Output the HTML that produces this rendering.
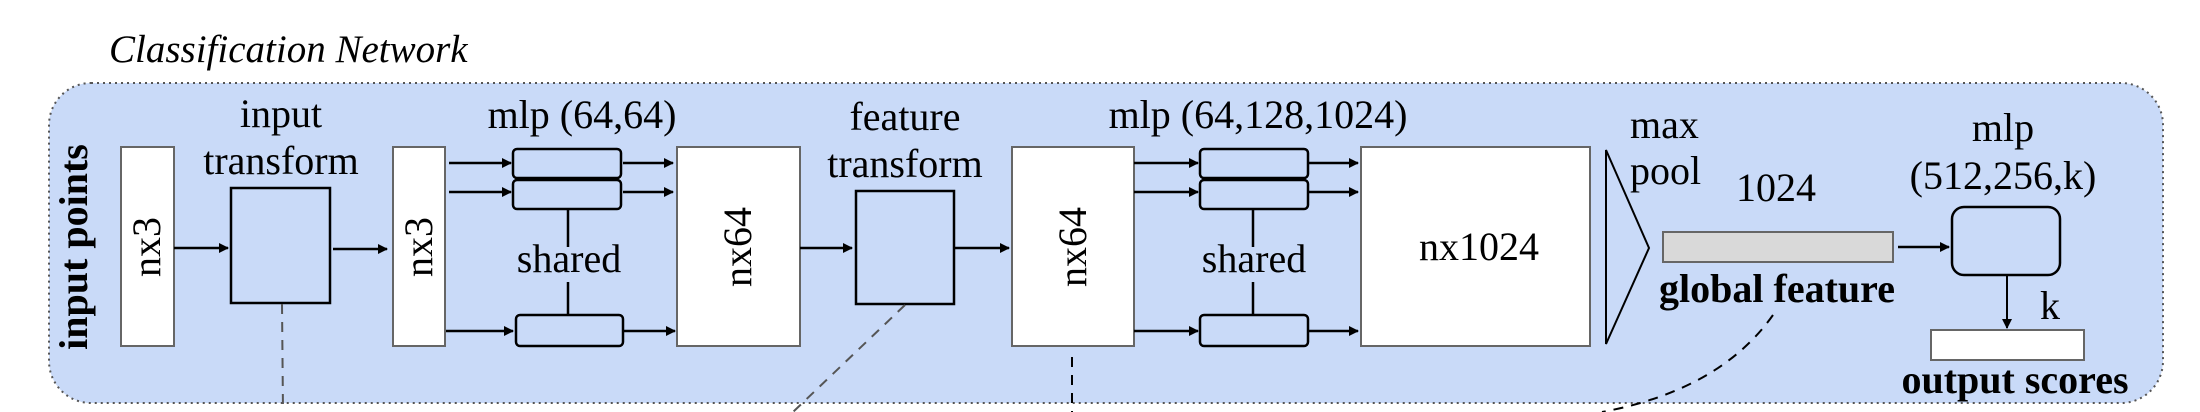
<!DOCTYPE html>
<html><head><meta charset="utf-8"><style>
html,body{margin:0;padding:0;background:#fff;width:2200px;height:412px;overflow:hidden}
svg{display:block}
text{font-family:"Liberation Serif",serif;fill:#000}
</style></head><body>
<svg width="2200" height="412" viewBox="0 0 2200 412" xmlns="http://www.w3.org/2000/svg">
<defs>
<marker id="a" markerWidth="10" markerHeight="10" refX="9" refY="5" orient="auto" markerUnits="userSpaceOnUse">
<path d="M0,0 L10,5 L0,10 Z" fill="#000"/></marker>
</defs>
<text x="109" y="62" font-size="39" font-style="italic">Classification Network</text>
<rect x="49" y="83" width="2114" height="320" rx="42" ry="42" fill="#c9daf8" stroke="#555" stroke-width="2" stroke-dasharray="2,4"/>
<text transform="translate(87,247) rotate(-90)" text-anchor="middle" font-size="40" font-weight="bold">input points</text>

<rect x="121" y="147" width="53" height="199" fill="#fff" stroke="#666" stroke-width="2"/>
<text transform="translate(160,247) rotate(-90)" text-anchor="middle" font-size="40">nx3</text>
<line x1="174" y1="248" x2="228" y2="248" stroke="#000" stroke-width="2.5" marker-end="url(#a)"/>
<text x="281" y="127" text-anchor="middle" font-size="40">input</text>
<text x="281" y="174" text-anchor="middle" font-size="40">transform</text>
<rect x="231" y="188" width="99" height="115" fill="#c9daf8" stroke="#000" stroke-width="2.5"/>
<line x1="333" y1="249" x2="387" y2="249" stroke="#000" stroke-width="2.5" marker-end="url(#a)"/>
<rect x="393" y="147" width="52" height="199" fill="#fff" stroke="#666" stroke-width="2"/>
<text transform="translate(432,247) rotate(-90)" text-anchor="middle" font-size="40">nx3</text>

<text x="582" y="128" text-anchor="middle" font-size="40">mlp (64,64)</text>
<rect x="513" y="149" width="108" height="29" rx="4" fill="#c9daf8" stroke="#000" stroke-width="2.5"/>
<rect x="513" y="180" width="108" height="29" rx="4" fill="#c9daf8" stroke="#000" stroke-width="2.5"/>
<rect x="516" y="315" width="107" height="31" rx="4" fill="#c9daf8" stroke="#000" stroke-width="2.5"/>
<line x1="449" y1="163" x2="511" y2="163" stroke="#000" stroke-width="2.5" marker-end="url(#a)"/>
<line x1="449" y1="192" x2="511" y2="192" stroke="#000" stroke-width="2.5" marker-end="url(#a)"/>
<line x1="446" y1="331" x2="513" y2="331" stroke="#000" stroke-width="2.5" marker-end="url(#a)"/>
<line x1="623" y1="163" x2="673" y2="163" stroke="#000" stroke-width="2.5" marker-end="url(#a)"/>
<line x1="623" y1="192" x2="673" y2="192" stroke="#000" stroke-width="2.5" marker-end="url(#a)"/>
<line x1="624" y1="331" x2="675" y2="331" stroke="#000" stroke-width="2.5" marker-end="url(#a)"/>
<line x1="568" y1="209" x2="568" y2="247" stroke="#000" stroke-width="2.5"/>
<line x1="568" y1="282" x2="568" y2="315" stroke="#000" stroke-width="2.5"/>
<text x="569" y="272" text-anchor="middle" font-size="40">shared</text>

<rect x="677" y="147" width="123" height="199" fill="#fff" stroke="#666" stroke-width="2"/>
<text transform="translate(751,247) rotate(-90)" text-anchor="middle" font-size="40">nx64</text>
<line x1="800" y1="248" x2="852" y2="248" stroke="#000" stroke-width="2.5" marker-end="url(#a)"/>
<text x="905" y="130" text-anchor="middle" font-size="40">feature</text>
<text x="905" y="177" text-anchor="middle" font-size="40">transform</text>
<rect x="856" y="191" width="98" height="113" fill="#c9daf8" stroke="#000" stroke-width="2.5"/>
<line x1="955" y1="248" x2="1009" y2="248" stroke="#000" stroke-width="2.5" marker-end="url(#a)"/>
<rect x="1012" y="147" width="122" height="199" fill="#fff" stroke="#666" stroke-width="2"/>
<text transform="translate(1086,247) rotate(-90)" text-anchor="middle" font-size="40">nx64</text>

<text x="1258" y="128" text-anchor="middle" font-size="40">mlp (64,128,1024)</text>
<rect x="1200" y="149" width="108" height="29" rx="4" fill="#c9daf8" stroke="#000" stroke-width="2.5"/>
<rect x="1200" y="180" width="108" height="29" rx="4" fill="#c9daf8" stroke="#000" stroke-width="2.5"/>
<rect x="1200" y="315" width="108" height="31" rx="4" fill="#c9daf8" stroke="#000" stroke-width="2.5"/>
<line x1="1134" y1="163" x2="1198" y2="163" stroke="#000" stroke-width="2.5" marker-end="url(#a)"/>
<line x1="1134" y1="192" x2="1198" y2="192" stroke="#000" stroke-width="2.5" marker-end="url(#a)"/>
<line x1="1134" y1="331" x2="1198" y2="331" stroke="#000" stroke-width="2.5" marker-end="url(#a)"/>
<line x1="1309" y1="163" x2="1358" y2="163" stroke="#000" stroke-width="2.5" marker-end="url(#a)"/>
<line x1="1309" y1="192" x2="1358" y2="192" stroke="#000" stroke-width="2.5" marker-end="url(#a)"/>
<line x1="1309" y1="331" x2="1358" y2="331" stroke="#000" stroke-width="2.5" marker-end="url(#a)"/>
<line x1="1253" y1="209" x2="1253" y2="247" stroke="#000" stroke-width="2.5"/>
<line x1="1253" y1="282" x2="1253" y2="315" stroke="#000" stroke-width="2.5"/>
<text x="1254" y="272" text-anchor="middle" font-size="40">shared</text>

<rect x="1361" y="147" width="229" height="199" fill="#fff" stroke="#666" stroke-width="2"/>
<text x="1479" y="260" text-anchor="middle" font-size="40">nx1024</text>

<path d="M1606,150 L1606,344 L1649,248 Z" fill="#c9daf8" stroke="#000" stroke-width="2"/>
<text x="1630" y="138" font-size="40">max</text>
<text x="1630" y="184" font-size="40">pool</text>
<text x="1776" y="201" text-anchor="middle" font-size="40">1024</text>
<rect x="1663" y="232" width="230" height="30" fill="#d9d9d9" stroke="#666" stroke-width="2"/>
<text x="1777" y="302" text-anchor="middle" font-size="40" font-weight="bold">global feature</text>
<line x1="1898" y1="247" x2="1949" y2="247" stroke="#000" stroke-width="2.5" marker-end="url(#a)"/>
<text x="2003" y="141" text-anchor="middle" font-size="40">mlp</text>
<text x="2003" y="189" text-anchor="middle" font-size="40">(512,256,k)</text>
<rect x="1952" y="207" width="108" height="68" rx="12" fill="#c9daf8" stroke="#000" stroke-width="2.5"/>
<line x1="2007" y1="275" x2="2007" y2="328" stroke="#000" stroke-width="2" marker-end="url(#a)"/>
<text x="2050" y="319" text-anchor="middle" font-size="40">k</text>
<rect x="1931" y="330" width="153" height="30" fill="#fff" stroke="#666" stroke-width="2"/>
<text x="2015" y="393" text-anchor="middle" font-size="40" font-weight="bold">output scores</text>

<line x1="282" y1="304" x2="283" y2="412" stroke="#555" stroke-width="2" stroke-dasharray="10,8"/>
<line x1="905" y1="305" x2="793" y2="412" stroke="#555" stroke-width="2" stroke-dasharray="10,8"/>
<line x1="1072" y1="357" x2="1072" y2="412" stroke="#000" stroke-width="2" stroke-dasharray="10,8"/>
<path d="M1773,315 Q1720,390 1602,412" fill="none" stroke="#000" stroke-width="2" stroke-dasharray="10,8"/>
</svg>
</body></html>
